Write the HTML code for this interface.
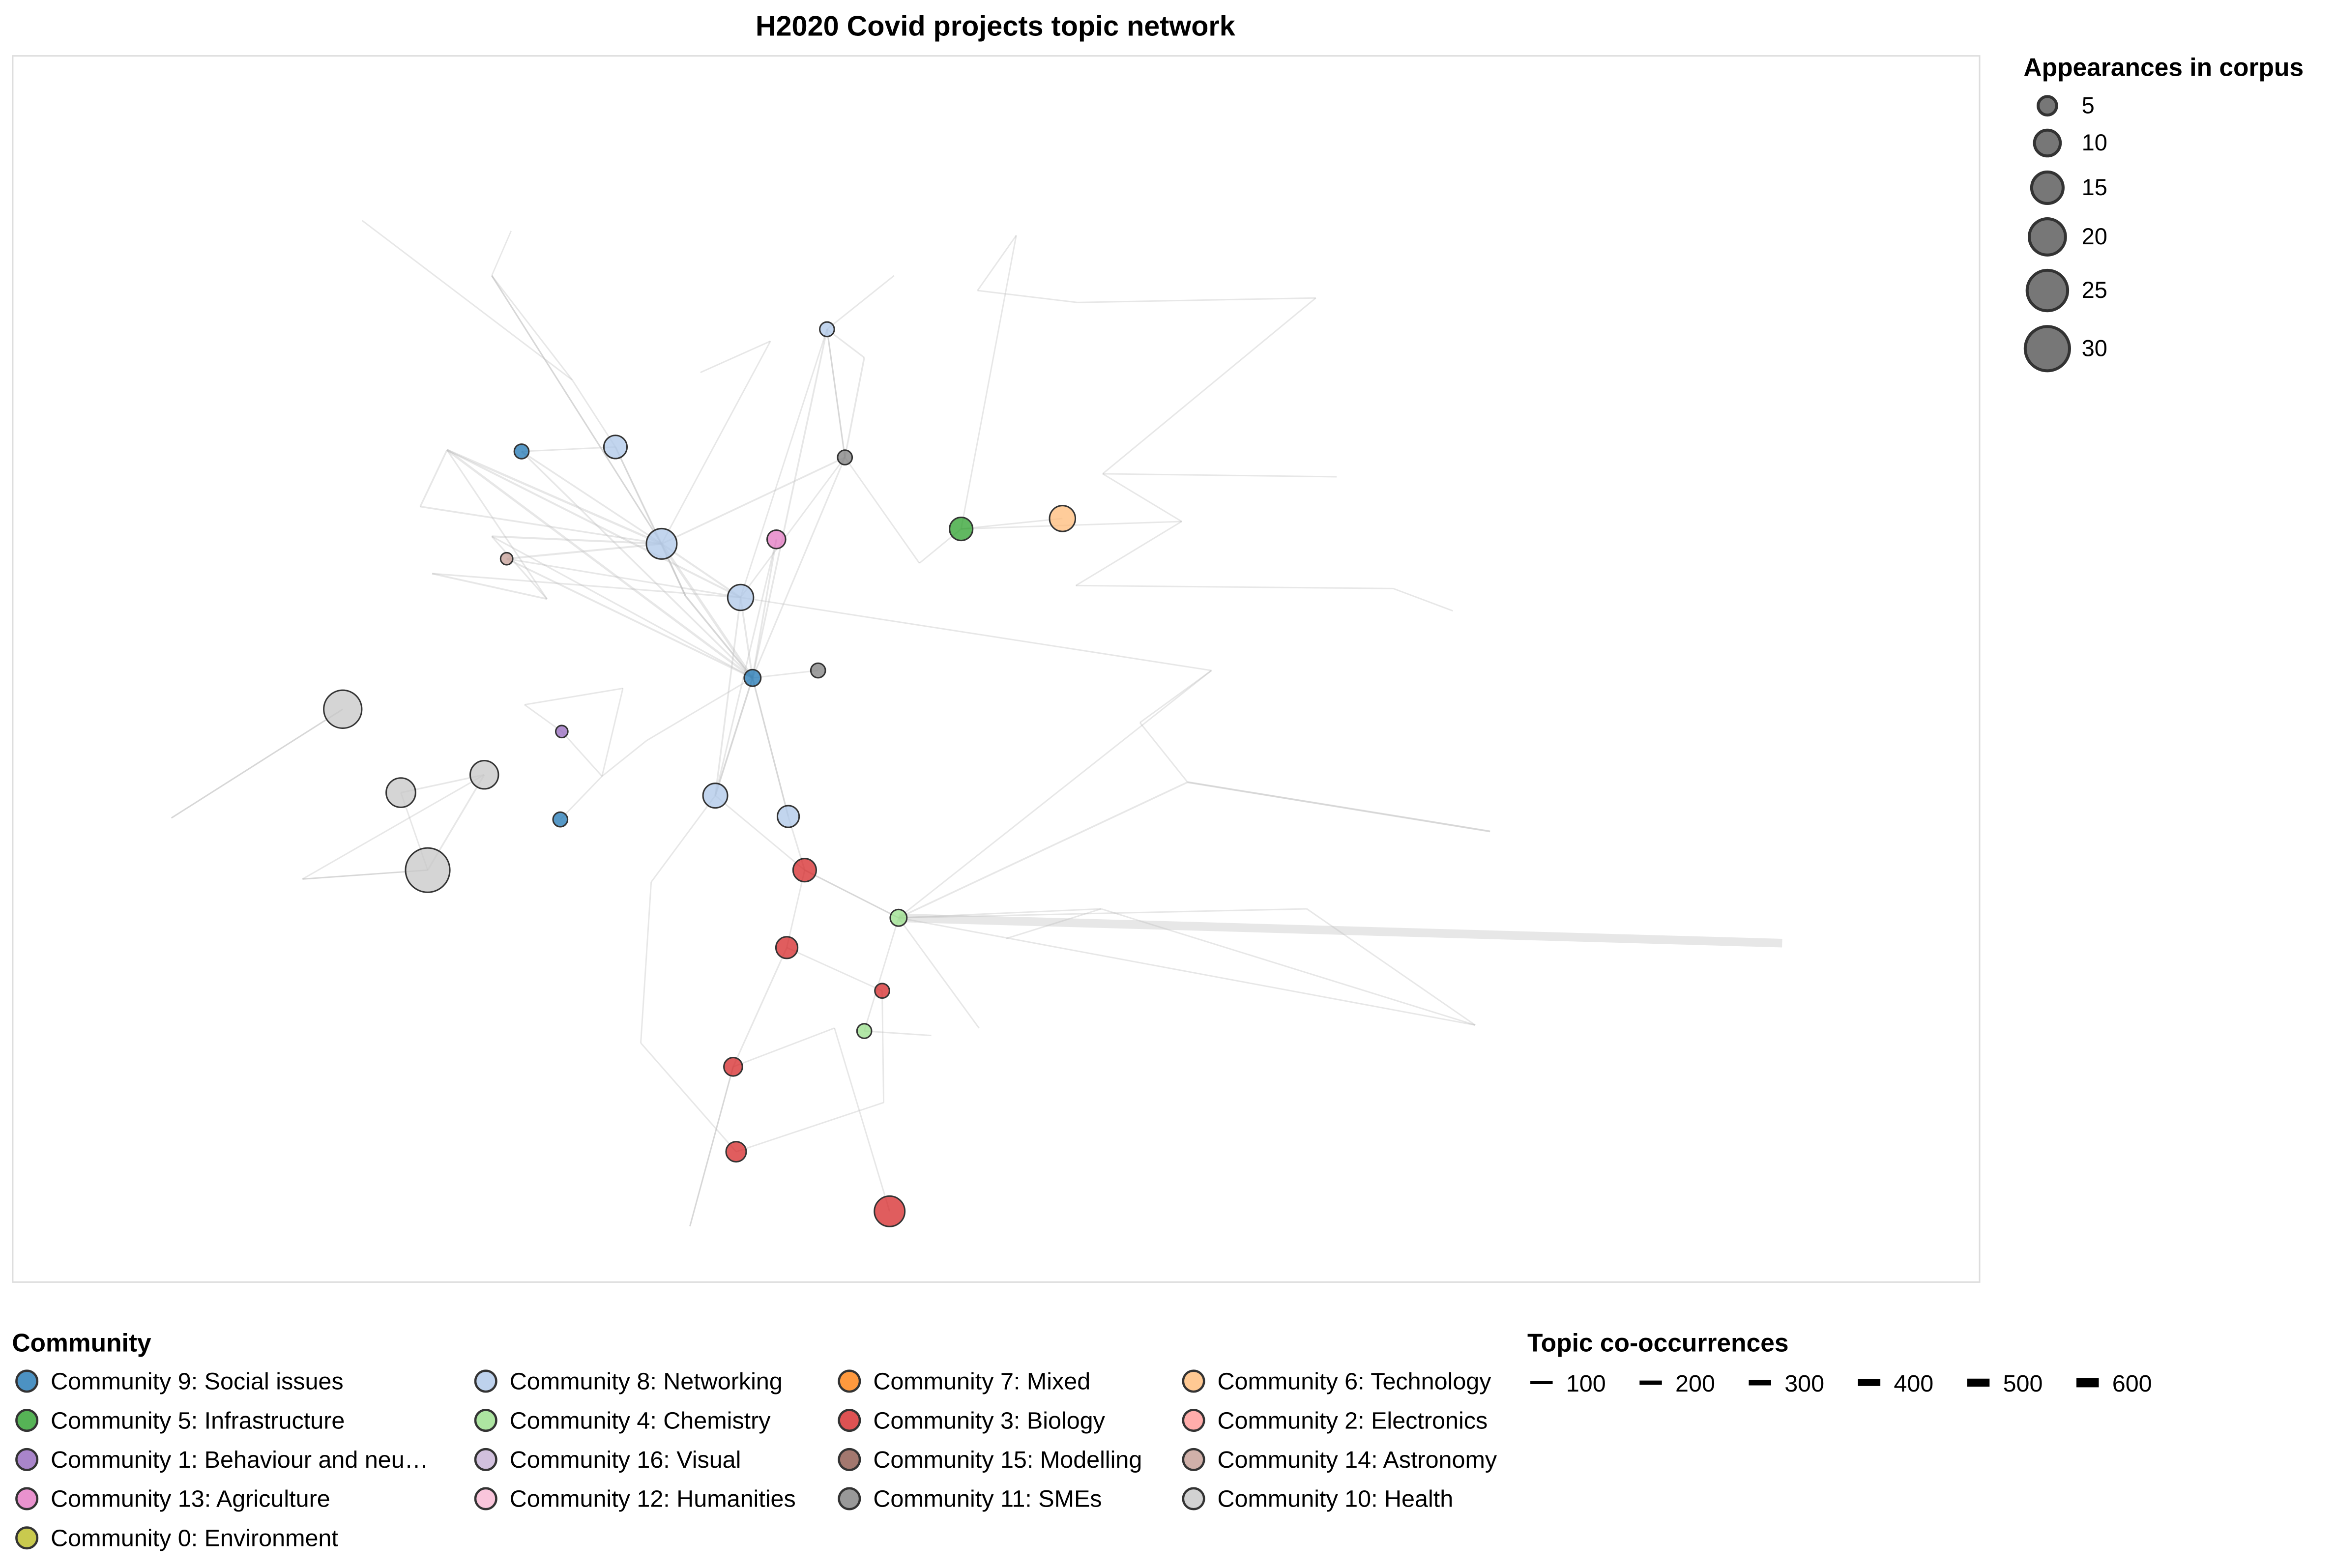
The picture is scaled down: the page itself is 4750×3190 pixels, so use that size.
<!DOCTYPE html>
<html><head><meta charset="utf-8"><style>
html,body{margin:0;padding:0;background:#fff;}
svg{display:block;font-family:"Liberation Sans",Arial,sans-serif;}
</style></head><body>
<svg id="chart" width="4750" height="3190" viewBox="0 0 1567 1052.4" xmlns="http://www.w3.org/2000/svg">
<rect x="0" y="0" width="1567" height="1053" fill="#fff"/>
<text x="668" y="24" text-anchor="middle" font-size="19" font-weight="bold">H2020 Covid projects topic network</text>
<rect x="8.5" y="37.5" width="1320" height="823" fill="none" stroke="#ddd"/>
<g id="edges"></g><g id="nodes"></g>
<g id="sizeLegend"></g><g id="commLegend"></g><g id="edgeLegend"></g>
</svg>
<script>
const NS="http://www.w3.org/2000/svg";
const nodeIds=["a","b","c","d","e","f","g","h","i","j","k","l","m","n","o","p","q","r","s","t","u","v","w","x","y","z","aa","ab"];
const nodeX=[555,350,413,567,444,521,645,713,340,497,505,549,230,377,325,269,480,529,376,287,540,603,528,592,580,492,494,597];
const nodeY=[221,303,300,307,365,362,355,348,375,401,455,450,476,491,520,532,534,548,550,584,584,616,636,665,692,716,773,813];
const nodeSize=[3,3,8,3,14,5,8,10,2,10,4,3,22,2,12,13,9,7,3,30,8,4,7,3,3,5,6,14];
const nodeComm=[8,9,8,11,8,13,5,6,14,8,9,11,10,1,10,10,8,8,9,10,3,4,3,3,4,3,3,3];
const hidX=[330,384,343,243,300,367,460,434,115,203,437,463,617,682,656,723,883,740,897,793,722,935,975,813,765,797,1000,1196,739,675,877,990,657,625,593,290,580,600,517,282,310,352,404,418,330,250,205,470,560,430];
const hidY=[185,255,155,148,302,402,400,497,549,590,592,823,378,158,195,203,200,318,320,350,393,395,410,450,485,525,558,633,610,630,610,688,690,695,740,385,240,185,229,340,430,473,521,462,360,490,510,250,690,700];
const edgeFrom=["v","H25","H25","e","H4","H4","e","e","j","a","a","d","d","H0","H0","H1","b","c","e","i","i","f","k","k","k","l","q","r","q","o","o","o","p","t","m","H8","H9","u","u","w","w","v","v","v","v","v","x","y","z","z","H34","g","g","g","H13","H14","H15","H16","H17","H17","H19","H21","H21","H23","H24","H25","H28","H30","H31","n","n","H41","H43","H42","s","H5","H44","H39","H35","H6","H6","H36","H37","H38","d","d","g","H47","H10","H11","H10","H48","H49","e","c","j","k","H4","H4","b","i","H44","H35","H0","H1","c","e","j","f","q","r","a","d","u","v"];
const edgeTo  =["H27","v","H26","k","k","e","j","d","k","d","k","k","H12","H1","H2","H3","e","e","H39","e","k","k","q","r","H7","k","H10","u","u","t","p","H9","t","H9","H8","m","t","w","v","z","x","H30","H28","H32","H31","y","H34","H33","H11","H48","aa","H12","H13","h","H14","H15","H16","H17","H18","H19","H20","H20","H22","H24","H25","H26","H29","H31","H28","H41","H42","H43","H42","H7","H42","H44","e","H4","H5","e","k","a","a","e","H36","a","H19","H38","H10","z","H49","ab","aa","H0","b","H23","H6","j","H5","k","j","k","j","e","c","H6","H6","q","q","k","k","j","j","v","H23"];
const edgeW   =[600,40,60,120,90,80,60,40,50,30,40,30,20,20,10,20,40,30,40,60,50,40,50,30,20,20,20,30,20,40,30,20,20,20,20,20,10,20,20,30,20,20,20,20,20,20,20,20,20,20,20,20,20,20,20,20,20,20,20,20,20,20,20,20,20,20,20,20,20,20,20,20,20,20,20,30,60,40,40,40,50,30,20,20,40,20,20,20,20,20,20,20,20,30,20,20,30,60,30,40,30,30,30,20,20,30,30,40,30,20,30,20,20,20,20];
const commIds=[9,8,7,6,5,4,3,2,1,16,15,14,13,12,11,10,0];
const commNames=["Social issues","Networking","Mixed","Technology","Infrastructure","Chemistry","Biology","Electronics","Behaviour and neu…","Visual","Modelling","Astronomy","Agriculture","Humanities","SMEs","Health","Environment"];
const commColors={0:"#bcbd22",1:"#9467bd",2:"#ff9896",3:"#d62728",4:"#98df8a",5:"#2ca02c",6:"#ffbb78",7:"#ff7f0e",8:"#aec7e8",9:"#1f77b4",10:"#c7c7c7",11:"#7f7f7f",12:"#f7b6d2",13:"#e377c2",14:"#c49c94",15:"#8c564b",16:"#c5b0d5"};
const sizeTicks=[5,10,15,20,25,30];
const edgeTicks=[100,200,300,400,500,600];

const rScale=s=>Math.sqrt(2+s*7.3);
const wScale=w=>0.8+w/120;
function pos(id){
  if(id[0]==="H"){const i=+id.slice(1);return [hidX[i],hidY[i]];}
  const i=nodeIds.indexOf(id);return [nodeX[i],nodeY[i]];
}
function mk(tag,attrs,parent){const e=document.createElementNS(NS,tag);for(const k in attrs)e.setAttribute(k,attrs[k]);parent.appendChild(e);return e;}
const gE=document.getElementById("edges");
edgeFrom.forEach((f,i)=>{
  const a=pos(f),b=pos(edgeTo[i]);
  const l=mk("line",{x1:a[0],y1:a[1],x2:b[0],y2:b[1],stroke:"#bbb","stroke-opacity":0.35,"stroke-width":wScale(edgeW[i])},gE);
  
  
});
const gN=document.getElementById("nodes");
nodeIds.forEach((id,i)=>{
  const c=mk("circle",{cx:nodeX[i],cy:nodeY[i],r:rScale(nodeSize[i]),fill:commColors[nodeComm[i]],"fill-opacity":0.75,stroke:"#333","stroke-width":1},gN);
  
  
});
const gS=document.getElementById("sizeLegend");
let t=mk("text",{x:1358,y:51,"font-size":17,"font-weight":"bold"},gS);t.textContent="Appearances in corpus";


const sY=[71,96,126,159,195,234];
sizeTicks.forEach((s,i)=>{
  const c=mk("circle",{cx:1374,cy:sY[i],r:rScale(s),fill:"#777",stroke:"#333","stroke-width":2},gS);
  
  
  const tx=mk("text",{x:1397,y:sY[i]+5,"font-size":15.5},gS);tx.textContent=s;
  
  
});
const gC=document.getElementById("commLegend");
t=mk("text",{x:8,y:907,"font-size":17,"font-weight":"bold"},gC);t.textContent="Community";


const colX=[18,326,570,801];
commIds.forEach((cid,i)=>{
  const col=i%4,row=Math.floor(i/4);const x=colX[col],y=927+row*26.3;
  const c=mk("circle",{cx:x,cy:y,r:7,fill:commColors[cid],"fill-opacity":0.8,stroke:"#333","stroke-width":1.5},gC);
  
  
  const tx=mk("text",{x:x+16,y:y+5.5,"font-size":16},gC);tx.textContent="Community "+cid+": "+commNames[i];
  
  
});
const gL=document.getElementById("edgeLegend");
t=mk("text",{x:1025,y:907,"font-size":17,"font-weight":"bold"},gL);t.textContent="Topic co-occurrences";


edgeTicks.forEach((w,i)=>{
  const x=1027+i*73.3;
  const l=mk("line",{x1:x,y1:928,x2:x+15,y2:928,stroke:"#000","stroke-width":1.2+w/120},gL);
  
  
  const tx=mk("text",{x:x+24,y:934,"font-size":16},gL);tx.textContent=w;
  
  
});
</script>
</body></html>
